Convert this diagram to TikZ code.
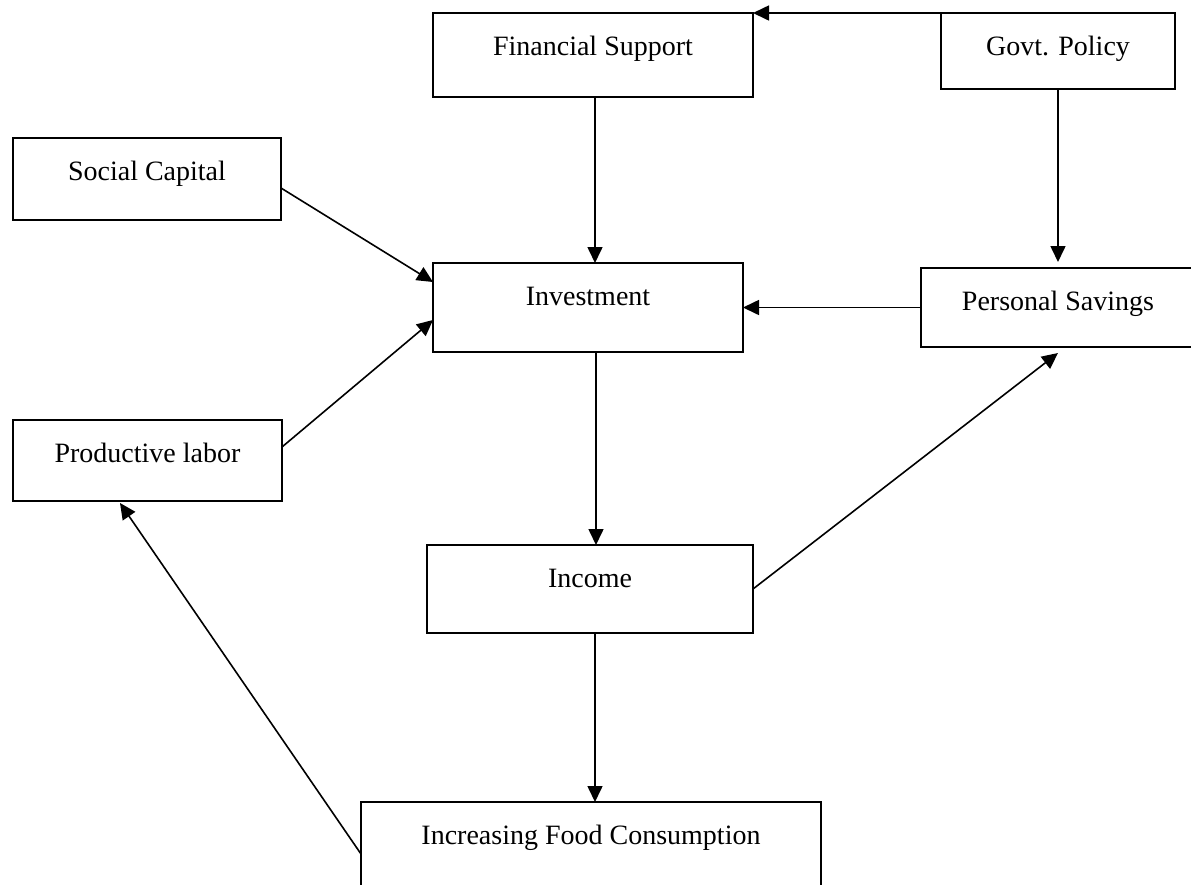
\documentclass[tikz,border=0pt]{standalone}
\usepackage{fontspec}
\setmainfont{Liberation Serif}
\usetikzlibrary{arrows.meta,positioning}

\begin{document}
\begin{tikzpicture}[
		x=0.5pt, y=-0.5pt,
		box/.style={draw, line width=0.9pt, inner sep=0pt, outer sep=0pt, anchor=north west,
			font=\fontsize{14pt}{17pt}\selectfont, text height=21pt, text depth=#1},
		arr/.style={line width=0.8pt, -{Triangle[length=8pt, width=7.5pt]}}
	]
		\useasboundingbox (0,0) rectangle (1191,885);

		\node[box=21pt, minimum width=160pt] (fin) at (433,13) {Financial Support};
		\node[box=17pt, minimum width=117pt] (govt) at (941,13) {Govt. Policy};
		\node[box=20pt, minimum width=134pt] (soc) at (13,138) {Social Capital};
		\node[box=23.5pt, minimum width=155pt] (inv) at (433,263) {Investment};
		\node[box=18.5pt, minimum width=137pt] (sav) at (921,268) {Personal Savings};
		\node[box=19.5pt, minimum width=134.5pt] (lab) at (13,420) {Productive labor};
		\node[box=23pt, minimum width=163pt] (inc) at (427,545) {Income};
		\node[box=24pt, minimum width=230pt] (food) at (361,802) {Increasing Food Consumption};

		\draw[arr] (govt.north west) -- (fin.north east);
		\draw[arr] ([xshift=1pt]fin.south) -- ([xshift=1pt]fin.south |- inv.north);
		\draw[arr] (govt.south) -- ([yshift=3pt]govt.south |- sav.north);
		\draw[arr] (sav.west) -- (sav.west -| inv.east);
		\draw[arr] ([yshift=-4.5pt]soc.east) -- ([yshift=12.75pt]inv.west);
		\draw[arr] ([yshift=6.75pt]lab.east) -- ([yshift=-6.25pt]inv.west);
		\draw[arr] ([xshift=4pt]inv.south) -- ([xshift=4pt]inv.south |- inc.north);
		\draw[arr] (inc.east) -- ([yshift=-3pt]sav.south);
		\draw[arr] ([xshift=2.5pt]inc.south) -- ([xshift=2.5pt]inc.south |- food.north);
		\draw[arr] ([yshift=-26pt]food.north west) -- ([xshift=53.5pt, yshift=-1pt]lab.south west);
	\end{tikzpicture}
\end{document}
